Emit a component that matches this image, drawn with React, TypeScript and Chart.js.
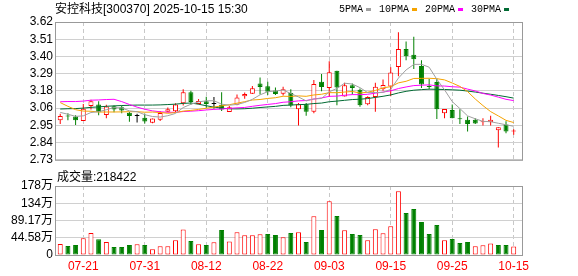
import React, { useEffect, useRef } from 'react';
import { Chart, registerables } from 'chart.js';

Chart.register(...registerables);

// ---------- data ----------
const stockName = '安控科技';
const stockCode = '300370';
const stampText = '2025-10-15 15:30';
const volumeTitle = '成交量';

const dates = [
  '07-16', '07-17', '07-18', '07-21', '07-22', '07-23', '07-24', '07-25', '07-28', '07-29', '07-30', '07-31',
  '08-01', '08-04', '08-05', '08-06', '08-07', '08-08', '08-11', '08-12', '08-13', '08-14', '08-15', '08-18',
  '08-19', '08-20', '08-21', '08-22', '08-25', '08-26', '08-27', '08-28', '08-29',
  '09-01', '09-02', '09-03', '09-04', '09-05', '09-08', '09-09', '09-10', '09-11', '09-12', '09-15', '09-16',
  '09-17', '09-18', '09-19', '09-22', '09-23', '09-24', '09-25', '09-26', '09-29', '09-30',
  '10-09', '10-10', '10-13', '10-14', '10-15',
];
const tickDates = ['07-21', '07-31', '08-12', '08-22', '09-03', '09-15', '09-25', '10-15'];

const opens = [
  2.985, 3.016, 3.010, 2.980, 3.077, 3.087, 3.019, 3.076, 3.070, 3.034,
  3.013, 3.002, 2.970, 2.988, 3.040, 3.043, 3.095, 3.166, 3.091, 3.108,
  3.090, 3.085, 3.039, 3.086, 3.140, 3.157, 3.222, 3.205, 3.178, 3.157,
  3.162, 3.056, 3.089, 3.041, 3.234, 3.193, 3.305, 3.139, 3.211, 3.182,
  3.089, 3.135, 3.186, 3.203, 3.330, 3.446, 3.408, 3.336, 3.205, 3.232,
  3.031, 3.052, 2.996, 2.989, 2.989, 2.972, 2.973, 2.921, 2.958, 2.912,
];
const highs = [
  3.028, 3.030, 3.018, 3.090, 3.118, 3.108, 3.086, 3.080, 3.081, 3.038,
  3.028, 3.028, 2.996, 3.045, 3.068, 3.095, 3.186, 3.176, 3.122, 3.138,
  3.135, 3.166, 3.078, 3.152, 3.165, 3.207, 3.262, 3.234, 3.197, 3.201,
  3.186, 3.097, 3.097, 3.245, 3.284, 3.367, 3.305, 3.228, 3.222, 3.190,
  3.140, 3.228, 3.249, 3.327, 3.554, 3.494, 3.524, 3.373, 3.253, 3.253,
  3.058, 3.087, 3.056, 3.010, 2.999, 2.999, 3.014, 2.941, 2.979, 2.927,
];
const lows = [
  2.962, 2.985, 2.955, 2.980, 3.055, 3.017, 2.998, 3.037, 3.030, 2.975,
  2.971, 2.964, 2.966, 2.980, 3.037, 3.037, 3.081, 3.085, 3.089, 3.066,
  3.062, 3.045, 3.039, 3.082, 3.124, 3.155, 3.152, 3.149, 3.149, 3.145,
  3.070, 2.952, 3.014, 3.031, 3.172, 3.135, 3.083, 3.139, 3.151, 3.072,
  3.083, 3.041, 3.176, 3.141, 3.270, 3.373, 3.317, 3.193, 3.186, 2.993,
  2.999, 2.999, 2.962, 2.913, 2.962, 2.952, 2.952, 2.809, 2.902, 2.892,
];
const closes = [
  3.013, 3.010, 2.986, 3.060, 3.108, 3.039, 3.074, 3.055, 3.049, 3.013,
  3.013, 2.977, 2.996, 3.032, 3.056, 3.087, 3.166, 3.103, 3.109, 3.090,
  3.090, 3.055, 3.069, 3.132, 3.155, 3.192, 3.200, 3.170, 3.155, 3.186,
  3.080, 3.089, 3.041, 3.220, 3.200, 3.296, 3.197, 3.211, 3.193, 3.083,
  3.135, 3.201, 3.213, 3.294, 3.446, 3.398, 3.379, 3.217, 3.200, 3.056,
  3.058, 2.999, 2.992, 2.962, 2.964, 2.974, 2.989, 2.941, 2.913, 2.915,
];
// volume in 万 (10k lots)
const volumes = [
  28.4, 23, 26, 43, 57, 41, 33.6, 21, 21, 26,
  27.6, 26, 14.7, 22.5, 22.5, 38, 66, 36, 28, 26,
  32.8, 64.6, 35, 58.6, 51, 51, 53.5, 54, 51.7, 45.7,
  57, 58.6, 33.6, 100, 64.6, 139, 100.8, 63.8, 54.3, 51.7,
  38, 66.4, 56, 74, 164.6, 108.6, 119, 85.3, 54.3, 77.5,
  38, 41.4, 31, 33.6, 22.5, 25, 30, 26, 26, 21.8422,
];
// closes of the sessions before the window (estimated from where the MA lines start)
const priorCloses = [
  2.95, 2.96, 2.97, 2.96, 2.95, 2.96, 2.97, 2.98, 2.97, 2.97,
  2.98, 2.99, 3.00, 2.99, 3.01, 3.02, 3.023,
  3.35, 3.38, 3.36, 3.25, 3.203,
  3.15, 3.12, 3.09, 3.07, 3.055, 3.043, 3.00,
];
const maPeriods = [5, 10, 20, 30];
const maLabels = ['5PMA', '10PMA', '20PMA', '30PMA'];

const priceTickValues = [2.73, 2.84125, 2.9525, 3.06375, 3.175, 3.28625, 3.3975, 3.50875, 3.62];
const priceTickLabels = ['2.73', '2.84', '2.95', '3.06', '3.18', '3.29', '3.40', '3.51', '3.62'];
const volumeTickValues = [0, 44.585, 89.17, 133.755, 178.34];
const volumeTickLabels = ['0', '44.58万', '89.17万', '134万', '178万'];

// ---------- styles ----------
const RED = '#ff0000';
const GREEN = '#008000';
const BLACK = '#000000';
const TEXT = '#000000';
const maColors = ['#a0a0a0', '#f5a300', '#ff00ff', '#006a33'];
const GRID_H = '#d0d0d0';
const GRID_V = '#c8c8c8';
const FRAME = '#999999';
const FONT_FAMILY = "'Liberation Sans', 'Noto Sans CJK SC'";
const TITLE_FONT = "12px 'Liberation Sans', 'Noto Sans CJK SC'";
const LEGEND_FONT = "10px 'Liberation Mono'";
const X_MIN = -0.55;
const X_MAX = 60.08;

const framePlugin = {
  id: 'frame',
  beforeDatasetsDraw(chart: any) {
    const { ctx, chartArea: a } = chart;
    ctx.save();
    ctx.strokeStyle = FRAME;
    ctx.lineWidth = 1;
    ctx.strokeRect(a.left - 0.5, a.top + 0.5, a.right - a.left + 1, a.bottom - a.top);
    ctx.restore();
  },
};

const headerPlugin = {
  id: 'header',
  afterDraw(chart: any) {
    const ctx = chart.ctx;
    ctx.save();
    ctx.textBaseline = 'middle';
    ctx.textAlign = 'left';
    ctx.fillStyle = TEXT;
    ctx.font = TITLE_FONT;
    ctx.fillText(`${stockName}[${stockCode}] ${stampText}`, 55, 9.5);
    ctx.font = LEGEND_FONT;
    let x = 339;
    maLabels.forEach((lab, k) => {
      ctx.fillStyle = TEXT;
      ctx.fillText(lab, x, 9.5);
      x += ctx.measureText(lab).width + 3;
      ctx.fillStyle = maColors[k];
      ctx.fillRect(x, 8, 5, 3);
      x += 5 + 8;
    });
    ctx.restore();
  },
};

const volumeHeaderPlugin = {
  id: 'volHeader',
  afterDraw(chart: any) {
    const ctx = chart.ctx;
    ctx.save();
    ctx.textBaseline = 'middle';
    ctx.textAlign = 'left';
    ctx.fillStyle = TEXT;
    ctx.font = TITLE_FONT;
    const last = Math.round(volumes[volumes.length - 1] * 10000);
    ctx.fillText(`${volumeTitle}:${last}`, 57, 8);
    ctx.restore();
  },
};

export default function App() {
  const priceRef = useRef<HTMLCanvasElement | null>(null);
  const volRef = useRef<HTMLCanvasElement | null>(null);

  useEffect(() => {
    const off = priorCloses.length;
    const all = priorCloses.concat(closes);
    const prevClose = (i: number) => all[off + i - 1];
    const dir = closes.map((c, i) => {
      if (c > opens[i]) return 1;
      if (c < opens[i]) return -1;
      const p = prevClose(i);
      return c > p ? 1 : c < p ? -1 : 0;
    });
    const col = dir.map((d) => (d > 0 ? RED : d < 0 ? GREEN : BLACK));
    const bodyFill = closes.map((c, i) =>
      dir[i] > 0 && Math.abs(c - opens[i]) >= 0.006 ? '#ffffff' : col[i]
    );
    const volUp = closes.map((c, i) => c >= prevClose(i));
    const tickIdx = tickDates.map((d) => dates.indexOf(d));

    const maData = maPeriods.map((p) =>
      closes.map((_, i) => {
        const end = off + i + 1;
        let s = 0;
        for (let k = end - p; k < end; k++) s += all[k];
        return { x: i, y: s / p };
      })
    );

    const xScale = (showLabels: boolean, h: number) => ({
      type: 'linear',
      min: X_MIN,
      max: X_MAX,
      offset: false,
      bounds: 'data',
      afterBuildTicks: (s: any) => {
        s.ticks = tickIdx.map((v) => ({ value: v }));
      },
      afterFit: (s: any) => {
        s.height = h;
      },
      grid: { offset: false, color: GRID_V, lineWidth: 1, drawTicks: false },
      border: { display: false, dash: [4, 3] },
      ticks: {
        display: showLabels,
        autoSkip: false,
        maxRotation: 0,
        minRotation: 0,
        padding: 4,
        color: RED,
        font: { family: FONT_FAMILY, size: 12 },
        callback: (v: any) => dates[Math.round(v)] ?? '',
      },
    });

    const yScale = (min: number, max: number, values: number[], labels: string[]) => ({
      type: 'linear',
      min,
      max,
      beginAtZero: false,
      bounds: 'data',
      afterBuildTicks: (s: any) => {
        s.ticks = values.map((v) => ({ value: v }));
      },
      afterFit: (s: any) => {
        s.width = 56;
      },
      grid: { color: GRID_H, lineWidth: 1, drawTicks: false },
      border: { display: false },
      ticks: {
        autoSkip: false,
        padding: 3,
        color: TEXT,
        font: { family: FONT_FAMILY, size: 12 },
        callback: (v: any) => labels[values.indexOf(v)] ?? '',
      },
    });

    const priceChart = new Chart(priceRef.current as HTMLCanvasElement, {
      type: 'bar',
      data: {
        datasets: [
          ...maData.map((d, k) => ({
            type: 'line',
            label: maLabels[k],
            data: d,
            borderColor: maColors[k],
            backgroundColor: maColors[k],
            borderWidth: 1,
            pointRadius: 0,
            fill: false,
            tension: 0,
            order: 0,
          })),
          {
            type: 'bar',
            label: 'body',
            data: closes.map((c, i) => ({ x: i, y: [opens[i], c] })),
            backgroundColor: bodyFill,
            borderColor: col,
            borderWidth: 1,
            borderSkipped: false,
            barThickness: 5,
            minBarLength: 1,
            grouped: false,
            inflateAmount: 0,
            order: 1,
          },
          {
            type: 'bar',
            label: 'wick',
            data: closes.map((_, i) => ({ x: i, y: [lows[i], highs[i]] })),
            backgroundColor: col,
            borderWidth: 0,
            barThickness: 1,
            grouped: false,
            inflateAmount: 0,
            order: 2,
          },
        ],
      } as any,
      options: {
        animation: false,
        responsive: false,
        maintainAspectRatio: false,
        devicePixelRatio: 1,
        events: [],
        layout: { padding: { top: 22, right: 56, bottom: 5, left: 0 } },
        plugins: { legend: { display: false }, tooltip: { enabled: false }, title: { display: false } },
        scales: {
          x: xScale(false, 0),
          y: yScale(2.73, 3.62, priceTickValues, priceTickLabels),
        },
      } as any,
      plugins: [framePlugin, headerPlugin],
    });

    const volChart = new Chart(volRef.current as HTMLCanvasElement, {
      type: 'bar',
      data: {
        datasets: [
          {
            label: volumeTitle,
            data: volumes.map((v, i) => ({ x: i, y: v })),
            backgroundColor: volUp.map((u) => (u ? '#ffffff' : GREEN)),
            borderColor: volUp.map((u) => (u ? RED : GREEN)),
            borderWidth: 1,
            borderSkipped: false,
            barThickness: 5,
            grouped: false,
            inflateAmount: 0,
          },
        ],
      } as any,
      options: {
        animation: false,
        responsive: false,
        maintainAspectRatio: false,
        devicePixelRatio: 1,
        events: [],
        layout: { padding: { top: 16, right: 56, bottom: 0, left: 0 } },
        plugins: { legend: { display: false }, tooltip: { enabled: false }, title: { display: false } },
        scales: {
          x: xScale(true, 21),
          y: yScale(0, 178.34, volumeTickValues, volumeTickLabels),
        },
      } as any,
      plugins: [framePlugin, volumeHeaderPlugin],
    });

    return () => {
      priceChart.destroy();
      volChart.destroy();
    };
  }, []);

  return (
    <div style={{ position: 'fixed', left: 0, top: 0, width: 578, height: 276, background: '#ffffff' }}>
      <canvas
        ref={priceRef}
        width={578}
        height={170}
        style={{ position: 'absolute', left: 0, top: 0, width: 578, height: 170 }}
      />
      <canvas
        ref={volRef}
        width={578}
        height={106}
        style={{ position: 'absolute', left: 0, top: 170, width: 578, height: 106 }}
      />
    </div>
  );
}
